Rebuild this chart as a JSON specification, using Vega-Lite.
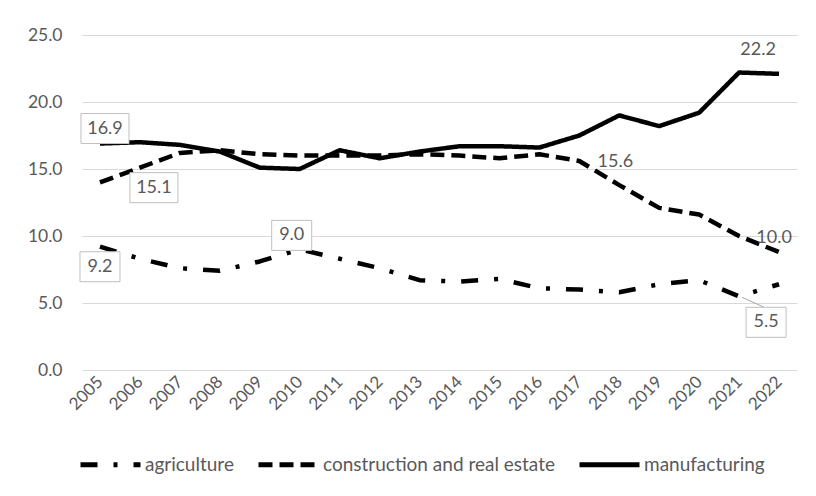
{
  "$schema": "https://vega.github.io/schema/vega-lite/v6.json",
  "width": 715,
  "height": 335,
  "autosize": {"type": "none"},
  "padding": {"left": 82, "top": 35, "right": 19, "bottom": 126},
  "background": "white",
  "config": {"view": {"stroke": null}, "font": "Lato"},
  "datasets": {
    "series": [
      {"year": "2005", "series": "manufacturing", "value": 16.9},
      {"year": "2006", "series": "manufacturing", "value": 17.0},
      {"year": "2007", "series": "manufacturing", "value": 16.8},
      {"year": "2008", "series": "manufacturing", "value": 16.3},
      {"year": "2009", "series": "manufacturing", "value": 15.1},
      {"year": "2010", "series": "manufacturing", "value": 15.0},
      {"year": "2011", "series": "manufacturing", "value": 16.4},
      {"year": "2012", "series": "manufacturing", "value": 15.8},
      {"year": "2013", "series": "manufacturing", "value": 16.3},
      {"year": "2014", "series": "manufacturing", "value": 16.7},
      {"year": "2015", "series": "manufacturing", "value": 16.7},
      {"year": "2016", "series": "manufacturing", "value": 16.6},
      {"year": "2017", "series": "manufacturing", "value": 17.5},
      {"year": "2018", "series": "manufacturing", "value": 19.0},
      {"year": "2019", "series": "manufacturing", "value": 18.2},
      {"year": "2020", "series": "manufacturing", "value": 19.2},
      {"year": "2021", "series": "manufacturing", "value": 22.2},
      {"year": "2022", "series": "manufacturing", "value": 22.1},
      {"year": "2005", "series": "construction and real estate", "value": 14.0},
      {"year": "2006", "series": "construction and real estate", "value": 15.1},
      {"year": "2007", "series": "construction and real estate", "value": 16.2},
      {"year": "2008", "series": "construction and real estate", "value": 16.4},
      {"year": "2009", "series": "construction and real estate", "value": 16.1},
      {"year": "2010", "series": "construction and real estate", "value": 16.0},
      {"year": "2011", "series": "construction and real estate", "value": 16.0},
      {"year": "2012", "series": "construction and real estate", "value": 16.0},
      {"year": "2013", "series": "construction and real estate", "value": 16.1},
      {"year": "2014", "series": "construction and real estate", "value": 16.0},
      {"year": "2015", "series": "construction and real estate", "value": 15.8},
      {"year": "2016", "series": "construction and real estate", "value": 16.1},
      {"year": "2017", "series": "construction and real estate", "value": 15.6},
      {"year": "2018", "series": "construction and real estate", "value": 13.8},
      {"year": "2019", "series": "construction and real estate", "value": 12.1},
      {"year": "2020", "series": "construction and real estate", "value": 11.6},
      {"year": "2021", "series": "construction and real estate", "value": 10.0},
      {"year": "2022", "series": "construction and real estate", "value": 8.8},
      {"year": "2005", "series": "agriculture", "value": 9.2},
      {"year": "2006", "series": "agriculture", "value": 8.3},
      {"year": "2007", "series": "agriculture", "value": 7.6},
      {"year": "2008", "series": "agriculture", "value": 7.4},
      {"year": "2009", "series": "agriculture", "value": 8.1},
      {"year": "2010", "series": "agriculture", "value": 9.0},
      {"year": "2011", "series": "agriculture", "value": 8.3},
      {"year": "2012", "series": "agriculture", "value": 7.6},
      {"year": "2013", "series": "agriculture", "value": 6.7},
      {"year": "2014", "series": "agriculture", "value": 6.6},
      {"year": "2015", "series": "agriculture", "value": 6.8},
      {"year": "2016", "series": "agriculture", "value": 6.1},
      {"year": "2017", "series": "agriculture", "value": 6.0},
      {"year": "2018", "series": "agriculture", "value": 5.8},
      {"year": "2019", "series": "agriculture", "value": 6.4},
      {"year": "2020", "series": "agriculture", "value": 6.7},
      {"year": "2021", "series": "agriculture", "value": 5.5},
      {"year": "2022", "series": "agriculture", "value": 6.4}
    ],
    "notes": [
      {"id": "m2005", "year": "2005", "value": 16.9, "label": "16.9"},
      {"id": "c2006", "year": "2006", "value": 15.1, "label": "15.1"},
      {"id": "a2005", "year": "2005", "value": 9.2, "label": "9.2"},
      {"id": "a2010", "year": "2010", "value": 9.0, "label": "9.0"},
      {"id": "a2021", "year": "2021", "value": 5.5, "label": "5.5"},
      {"id": "m2021", "year": "2021", "value": 22.2, "label": "22.2"},
      {"id": "c2017", "year": "2017", "value": 15.6, "label": "15.6"},
      {"id": "c2021", "year": "2021", "value": 10.0, "label": "10.0"}
    ]
  },
  "data": {"name": "series"},
  "encoding": {
    "x": {
      "field": "year", "type": "ordinal",
      "scale": {"type": "point", "padding": 0.45},
      "axis": {"title": null, "labelAngle": -45, "labelAlign": "right", "labelBaseline": "middle", "labelPadding": 9, "ticks": false, "tickSize": 0, "domain": false, "grid": false, "labelFont": "Lato", "labelFontSize": 17, "labelColor": "#595959"}
    },
    "y": {
      "field": "value", "type": "quantitative",
      "scale": {"domain": [0, 25], "nice": false},
      "axis": {"title": null, "values": [0, 5, 10, 15, 20, 25], "format": ".1f", "ticks": false, "tickSize": 0, "domain": false, "grid": true, "gridColor": "#d9d9d9", "gridWidth": 1, "labelPadding": 20, "labelFont": "Lato", "labelFontSize": 17.5, "labelColor": "#595959"}
    }
  },
  "layer": [
    {
      "mark": {"type": "line", "color": "black", "strokeWidth": 4.5, "strokeCap": "butt", "strokeJoin": "round"},
      "encoding": {
        "strokeDash": {
          "field": "series", "type": "nominal",
          "scale": {"domain": ["agriculture", "construction and real estate", "manufacturing"], "range": [[17, 16, 4, 16], [14, 7], [1, 0]]},
          "legend": {"title": null, "orient": "none", "legendX": -4, "legendY": 397, "direction": "horizontal", "symbolType": "stroke", "symbolSize": 3600, "symbolStrokeWidth": 5, "symbolStrokeColor": "black", "labelFont": "Lato", "labelFontSize": 19, "labelLimit": 500, "labelColor": "#595959", "columnPadding": 14, "labelOffset": 2}
        }
      }
    },
    {
      "data": {"name": "notes"},
      "transform": [{"filter": "datum.id == 'a2021'"}],
      "mark": {"type": "rule", "color": "#a6a6a6", "strokeWidth": 1, "xOffset": 3, "yOffset": 1, "x2Offset": 25, "y2Offset": 11},
      "encoding": {"x2": {"field": "year"}, "y2": {"field": "value"}}
    },
    {
      "data": {"name": "notes"},
      "transform": [{"filter": "datum.id == 'm2005'"}],
      "layer": [
        {"mark": {"type": "point", "shape": "M-1,-0.625L1,-0.625L1,0.625L-1,0.625Z", "size": 2304, "filled": true, "fill": "white", "stroke": "#bfbfbf", "strokeWidth": 1, "opacity": 1, "xOffset": 5, "yOffset": -15}},
        {"mark": {"type": "text", "dx": 5, "dy": -15, "fontSize": 18, "font": "Lato", "color": "#595959"}, "encoding": {"text": {"field": "label"}}}
      ]
    },
    {
      "data": {"name": "notes"},
      "transform": [{"filter": "datum.id == 'c2006'"}],
      "layer": [
        {"mark": {"type": "point", "shape": "M-1,-0.625L1,-0.625L1,0.625L-1,0.625Z", "size": 2304, "filled": true, "fill": "white", "stroke": "#bfbfbf", "strokeWidth": 1, "opacity": 1, "xOffset": 14, "yOffset": 20}},
        {"mark": {"type": "text", "dx": 14, "dy": 20, "fontSize": 18, "font": "Lato", "color": "#595959"}, "encoding": {"text": {"field": "label"}}}
      ]
    },
    {
      "data": {"name": "notes"},
      "transform": [{"filter": "datum.id == 'a2005'"}],
      "layer": [
        {"mark": {"type": "point", "shape": "M-1,-0.75L1,-0.75L1,0.75L-1,0.75Z", "size": 1600, "filled": true, "fill": "white", "stroke": "#bfbfbf", "strokeWidth": 1, "opacity": 1, "xOffset": 0, "yOffset": 20}},
        {"mark": {"type": "text", "dx": 0, "dy": 20, "fontSize": 18, "font": "Lato", "color": "#595959"}, "encoding": {"text": {"field": "label"}}}
      ]
    },
    {
      "data": {"name": "notes"},
      "transform": [{"filter": "datum.id == 'a2010'"}],
      "layer": [
        {"mark": {"type": "point", "shape": "M-1,-0.75L1,-0.75L1,0.75L-1,0.75Z", "size": 1600, "filled": true, "fill": "white", "stroke": "#bfbfbf", "strokeWidth": 1, "opacity": 1, "xOffset": -8, "yOffset": -14}},
        {"mark": {"type": "text", "dx": -8, "dy": -14, "fontSize": 18, "font": "Lato", "color": "#595959"}, "encoding": {"text": {"field": "label"}}}
      ]
    },
    {
      "data": {"name": "notes"},
      "transform": [{"filter": "datum.id == 'a2021'"}],
      "layer": [
        {"mark": {"type": "point", "shape": "M-1,-0.75L1,-0.75L1,0.75L-1,0.75Z", "size": 1600, "filled": true, "fill": "white", "stroke": "#bfbfbf", "strokeWidth": 1, "opacity": 1, "xOffset": 27, "yOffset": 26}},
        {"mark": {"type": "text", "dx": 27, "dy": 26, "fontSize": 18, "font": "Lato", "color": "#595959"}, "encoding": {"text": {"field": "label"}}}
      ]
    },
    {
      "data": {"name": "notes"},
      "transform": [{"filter": "datum.id == 'm2021'"}],
      "mark": {"type": "text", "dx": 19, "dy": -23, "fontSize": 18, "font": "Lato", "color": "#595959"},
      "encoding": {"text": {"field": "label"}}
    },
    {
      "data": {"name": "notes"},
      "transform": [{"filter": "datum.id == 'c2017'"}],
      "mark": {"type": "text", "dx": 36, "dy": 1, "fontSize": 18, "font": "Lato", "color": "#595959"},
      "encoding": {"text": {"field": "label"}}
    },
    {
      "data": {"name": "notes"},
      "transform": [{"filter": "datum.id == 'c2021'"}],
      "mark": {"type": "text", "dx": 35, "dy": 2, "fontSize": 18, "font": "Lato", "color": "#595959"},
      "encoding": {"text": {"field": "label"}}
    }
  ]
}
